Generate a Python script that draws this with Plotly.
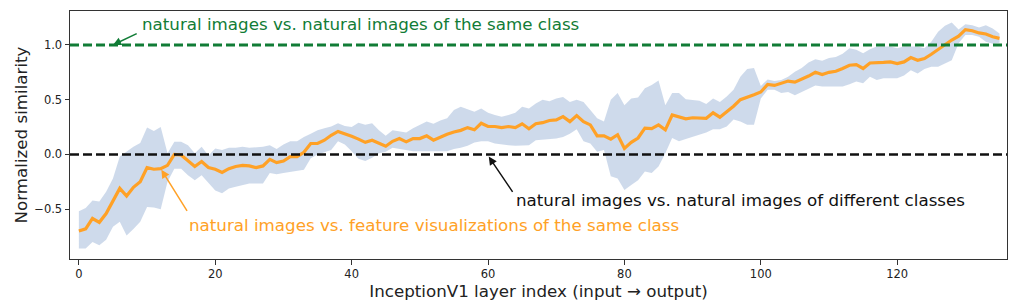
import plotly.graph_objects as go

layer_index = list(range(136))

mean_similarity = [
    -0.70, -0.68, -0.585, -0.62, -0.54, -0.42, -0.31, -0.38, -0.30, -0.25,
    -0.12, -0.135, -0.13, -0.10, 0.0, -0.005, -0.06, -0.11, -0.065, -0.12,
    -0.135, -0.165, -0.13, -0.11, -0.10, -0.105, -0.12, -0.105, -0.045, -0.075,
    -0.06, -0.02, -0.02, 0.02, 0.10, 0.10, 0.13, 0.175, 0.21, 0.19,
    0.165, 0.14, 0.11, 0.13, 0.10, 0.075, 0.12, 0.145, 0.115, 0.145,
    0.145, 0.17, 0.13, 0.16, 0.185, 0.205, 0.22, 0.245, 0.225, 0.285,
    0.255, 0.255, 0.245, 0.255, 0.245, 0.28, 0.235, 0.28, 0.29, 0.31,
    0.315, 0.345, 0.30, 0.355, 0.30, 0.27, 0.17, 0.17, 0.14, 0.18,
    0.055, 0.11, 0.15, 0.24, 0.235, 0.27, 0.225, 0.36, 0.34, 0.325,
    0.335, 0.335, 0.33, 0.38, 0.34, 0.39, 0.44, 0.50, 0.52, 0.545,
    0.57, 0.64, 0.63, 0.65, 0.67, 0.66, 0.685, 0.716, 0.75, 0.73,
    0.75, 0.76, 0.785, 0.815, 0.82, 0.785, 0.835, 0.835, 0.84, 0.845,
    0.83, 0.845, 0.885, 0.86, 0.875, 0.915, 0.96, 1.005, 1.045, 1.08,
    1.14, 1.13, 1.11, 1.10, 1.075, 1.06,
]

upper_band = [
    -0.52, -0.49, -0.42, -0.43, -0.34, -0.22, -0.02, 0.025, 0.07, 0.105,
    0.245, 0.215, 0.25, 0.01, 0.115, 0.115, 0.085, 0.01, 0.07, -0.01,
    0.055, 0.04, 0.06, 0.06, 0.07, 0.06, 0.065, 0.07, 0.085, 0.05,
    0.09, 0.12, 0.12, 0.16, 0.19, 0.22, 0.24, 0.255, 0.285, 0.26,
    0.25, 0.29, 0.27, 0.285, 0.22, 0.17, 0.22, 0.21, 0.20, 0.24,
    0.27, 0.30, 0.28, 0.31, 0.33, 0.405, 0.435, 0.41, 0.39, 0.42,
    0.38, 0.36, 0.345, 0.36, 0.38, 0.435, 0.42, 0.465, 0.50, 0.485,
    0.51, 0.525, 0.48, 0.50, 0.48, 0.405, 0.33, 0.30, 0.50, 0.56,
    0.45, 0.51, 0.52, 0.605, 0.635, 0.675, 0.45, 0.56, 0.56, 0.505,
    0.50, 0.49, 0.46, 0.51, 0.48, 0.53, 0.59, 0.71, 0.78, 0.79,
    0.625, 0.685, 0.67, 0.68, 0.71, 0.755, 0.79, 0.84, 0.87, 0.855,
    0.88, 0.89, 0.92, 0.97, 0.955, 0.925, 0.96, 0.985, 0.985, 0.985,
    0.97, 0.985, 0.985, 0.985, 0.97, 1.03, 1.12, 1.175, 1.205, 1.14,
    1.19, 1.18, 1.16, 1.18, 1.15, 1.105,
]

lower_band = [
    -0.86, -0.86, -0.80, -0.83, -0.78, -0.66, -0.615, -0.74, -0.68, -0.615,
    -0.48, -0.485, -0.50, -0.25, -0.13, -0.13, -0.19, -0.235, -0.19, -0.265,
    -0.33, -0.355, -0.31, -0.295, -0.28, -0.265, -0.265, -0.265, -0.17, -0.18,
    -0.17, -0.16, -0.15, -0.14, -0.035, 0.0, 0.02, 0.04, 0.12, 0.09,
    0.03, -0.04, -0.06, -0.03, 0.01, 0.025, 0.06, 0.05, 0.04, 0.03,
    0.03, 0.03, 0.03, 0.03, 0.03, 0.05, 0.06, 0.08, 0.11, 0.12,
    0.12, 0.10, 0.09, 0.085, 0.08, 0.08, 0.085, 0.13, 0.135, 0.135,
    0.145, 0.16, 0.19, 0.23, 0.12, 0.10, 0.025, 0.04, -0.20, -0.22,
    -0.325, -0.28, -0.235, -0.155, -0.17, -0.11, 0.01, 0.15, 0.12, 0.14,
    0.16, 0.18, 0.20, 0.23, 0.23, 0.255, 0.32, 0.30, 0.27, 0.27,
    0.51, 0.59, 0.59, 0.56, 0.57, 0.54, 0.57, 0.60, 0.63, 0.62,
    0.62, 0.62, 0.62, 0.64, 0.665, 0.65, 0.71, 0.68, 0.695, 0.695,
    0.695, 0.72, 0.77, 0.74, 0.78, 0.80, 0.80, 0.83, 0.86, 1.015,
    1.09, 1.09, 1.075, 1.03, 1.01, 1.02,
]

same_class_level = 1.0
different_class_level = 0.0

x_ticks = [0, 20, 40, 60, 80, 100, 120]
y_ticks = [-0.5, 0.0, 0.5, 1.0]

label_same = "natural images vs. natural images of the same class"
label_diff = "natural images vs. natural images of different classes"
label_fv = "natural images vs. feature visualizations of the same class"

ORANGE = "#ffa126"
GREEN = "#117c36"
BAND = "rgba(176,196,222,0.62)"
FONT = "DejaVu Sans"
TEXT_SIZE = 16.7

fig = go.Figure()

fig.add_trace(go.Scatter(
    x=layer_index, y=upper_band, mode="lines",
    line=dict(width=0, color=BAND), hoverinfo="skip", showlegend=False,
))
fig.add_trace(go.Scatter(
    x=layer_index, y=lower_band, mode="lines", fill="tonexty",
    fillcolor=BAND, line=dict(width=0, color=BAND), hoverinfo="skip", showlegend=False,
))

fig.add_hline(y=same_class_level, line=dict(color=GREEN, width=2.9, dash="9px,4px"), layer="above")
fig.add_hline(y=different_class_level, line=dict(color="#111111", width=2.4, dash="9px,4px"), layer="above")

fig.add_trace(go.Scatter(
    x=layer_index, y=mean_similarity, mode="lines",
    line=dict(color=ORANGE, width=3.2), showlegend=False,
))

def arrow(x, y, ax, ay, color):
    fig.add_annotation(
        x=x, y=y, ax=ax, ay=ay, xref="x", yref="y", axref="x", ayref="y",
        text="", showarrow=True, arrowhead=2, arrowsize=1.1, arrowwidth=1.5,
        arrowcolor=color, standoff=0, startstandoff=0,
    )

def label(x, y, text, color):
    fig.add_annotation(
        x=x, y=y, xref="x", yref="y", text=text, showarrow=False,
        xanchor="left", yanchor="middle",
        font=dict(family=FONT, size=TEXT_SIZE, color=color),
    )

arrow(5.0, same_class_level, 8.7, 1.11, GREEN)
label(9.0, 1.195, label_same, GREEN)

arrow(12.1, -0.14, 16.0, -0.53, ORANGE)
label(15.9, -0.645, label_fv, ORANGE)

arrow(60.1, -0.02, 63.75, -0.355, "#111111")
label(63.8, -0.415, label_diff, "#111111")

axis_common = dict(
    showgrid=False, zeroline=False, showline=True, mirror=True,
    linecolor="#333333", linewidth=1, ticks="outside", ticklen=4.5,
    tickwidth=1, tickcolor="#333333",
    tickfont=dict(family=FONT, size=11.5, color="#222222"),
)

fig.update_xaxes(
    range=[-1.3, 136.1], tickvals=x_ticks,
    title=dict(text="InceptionV1 layer index (input \u2192 output)",
               font=dict(family=FONT, size=TEXT_SIZE, color="#222222"), standoff=3),
    **axis_common,
)
fig.update_yaxes(
    range=[-0.955, 1.31], tickvals=y_ticks, tickformat=".1f",
    title=dict(text="Normalized similarity",
               font=dict(family=FONT, size=TEXT_SIZE, color="#222222"), standoff=2),
    **axis_common,
)

fig.update_layout(
    width=1015, height=306,
    margin=dict(l=70, r=8, t=11, b=47),
    plot_bgcolor="white", paper_bgcolor="white",
    font=dict(family=FONT),
)

fig.write_html("out.html")
